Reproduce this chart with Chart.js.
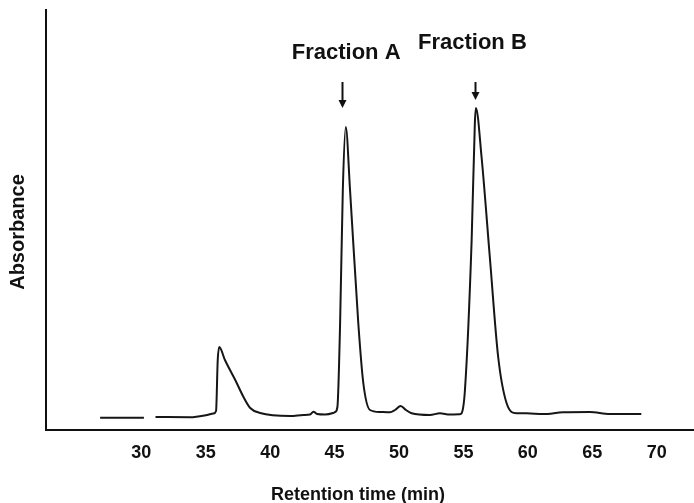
<!DOCTYPE html>
<html>
<head>
<meta charset="utf-8">
<script src="https://cdn.jsdelivr.net/npm/chart.js@4.4.0/dist/chart.umd.min.js"></script>
<style>
  body { margin: 0; background: #fff; }
  #wrap { width: 694px; height: 503px; position: relative; }
</style>
</head>
<body>
<div id="wrap"><canvas id="hplcChart"></canvas></div>
<script>
// Chromatogram (retention time in min, absorbance in arbitrary units)
const retentionTimes = [
  26.8, 30.2, 30.6, 31.1, 33.8, 35.1, 35.6, 35.8, 35.93, 36.05,
  36.49, 37.29, 37.93, 38.45, 39.22, 41.55, 42.58, 43.1, 43.36, 43.64,
  44.26, 44.88, 45.04, 45.22, 45.43, 45.64, 45.87, 46.2, 46.84, 47.23,
  47.75, 48.53, 49.3, 49.69, 50.13, 50.54, 50.98, 52.4, 53.18, 53.95,
  54.73, 54.86, 55.12, 55.64, 55.89, 55.97, 56.41, 57.05, 57.7, 58.35,
  59.12, 59.9, 61.19, 62.74, 64.81, 66.36, 68.81
];
const absorbance = [
  12.3, 12.3, null, 13, 12.7, 15, 16.5, 19, 70, 83,
  70, 50, 33, 22, 17, 14, 15, 15.5, 18.3, 16,
  15.5, 17, 18, 23, 107, 240, 303, 240, 107, 47,
  20, 18, 17.7, 20, 24, 20, 16.7, 15, 16.7, 15.5,
  15.7, 16.7, 40, 190, 307, 322, 273, 173, 73, 27,
  16.7, 16.7, 16, 17.7, 18, 16, 16
];
const xTickValues = [30, 35, 40, 45, 50, 55, 60, 65, 70];

// Peak annotations
const fractionNames = ['Fraction A', 'Fraction B'];
const fractionTimes = [45.9, 55.7];
const arrowTimes = [45.6, 55.9];

const points = retentionTimes.map((t, i) => ({ x: t, y: absorbance[i] }));

const annotationPlugin = {
  id: 'annotations',
  afterDraw(chart) {
    const ctx = chart.ctx;
    const xs = chart.scales.x;
    const ys = chart.scales.y;
    ctx.save();
    ctx.fillStyle = '#111';
    ctx.strokeStyle = '#111';

    // axis titles
    ctx.font = 'bold 18px "Liberation Sans", Arial, sans-serif';
    ctx.textAlign = 'center';
    ctx.textBaseline = 'alphabetic';
    ctx.fillText('Retention time (min)', 358, 500);
    ctx.save();
    ctx.translate(24, 232);
    ctx.rotate(-Math.PI / 2);
    ctx.font = 'bold 20px "Liberation Sans", Arial, sans-serif';
    ctx.fillText('Absorbance', 0, 0);
    ctx.restore();

    // fraction labels + arrows
    const textY = [371, 381];
    const arrowTop = [348, 348];
    const arrowTip = [322, 330];
    ctx.font = 'bold 22px "Liberation Sans", Arial, sans-serif';
    fractionNames.forEach((name, i) => {
      ctx.fillText(name, xs.getPixelForValue(fractionTimes[i]), ys.getPixelForValue(textY[i]));
      const ax = Math.round(xs.getPixelForValue(arrowTimes[i])) + 0.5;
      const y0 = ys.getPixelForValue(arrowTop[i]);
      const y1 = ys.getPixelForValue(arrowTip[i]);
      ctx.lineWidth = 2;
      ctx.beginPath();
      ctx.moveTo(ax, y0);
      ctx.lineTo(ax, y1 - 7);
      ctx.stroke();
      ctx.beginPath();
      ctx.moveTo(ax - 4, y1 - 8);
      ctx.lineTo(ax + 4, y1 - 8);
      ctx.lineTo(ax, y1);
      ctx.closePath();
      ctx.fill();
    });
    ctx.restore();
  }
};

const ctx = document.getElementById('hplcChart').getContext('2d');
const hplcChart = new Chart(ctx, {
  type: 'line',
  data: {
    datasets: [{
      data: points,
      borderColor: '#161616',
      borderWidth: 2,
      pointRadius: 0,
      fill: false,
      spanGaps: false,
      cubicInterpolationMode: 'monotone'
    }]
  },
  options: {
    responsive: true,
    maintainAspectRatio: false,
    animation: false,
    layout: { padding: { top: 10, right: 0, left: 0, bottom: 0 } },
    plugins: { legend: { display: false }, tooltip: { enabled: false } },
    scales: {
      x: {
        type: 'linear',
        min: 22.6,
        max: 72.9,
        grid: { display: false, drawTicks: false },
        border: { display: true, color: '#111', width: 2 },
        afterBuildTicks: (scale) => {
          scale.ticks = xTickValues.map(v => ({ value: v }));
        },
        afterFit: (scale) => { scale.height = 73; },
        ticks: {
          padding: 12,
          color: '#111',
          font: { family: '"Liberation Sans", Arial, sans-serif', size: 18, weight: 'bold' },
          maxRotation: 0
        }
      },
      y: {
        min: 0,
        max: 420,
        grid: { display: false, drawTicks: false },
        border: { display: true, color: '#111', width: 2 },
        ticks: { display: false },
        afterFit: (scale) => { scale.width = 46; }
      }
    }
  },
  plugins: [annotationPlugin]
});
</script>
</body>
</html>
